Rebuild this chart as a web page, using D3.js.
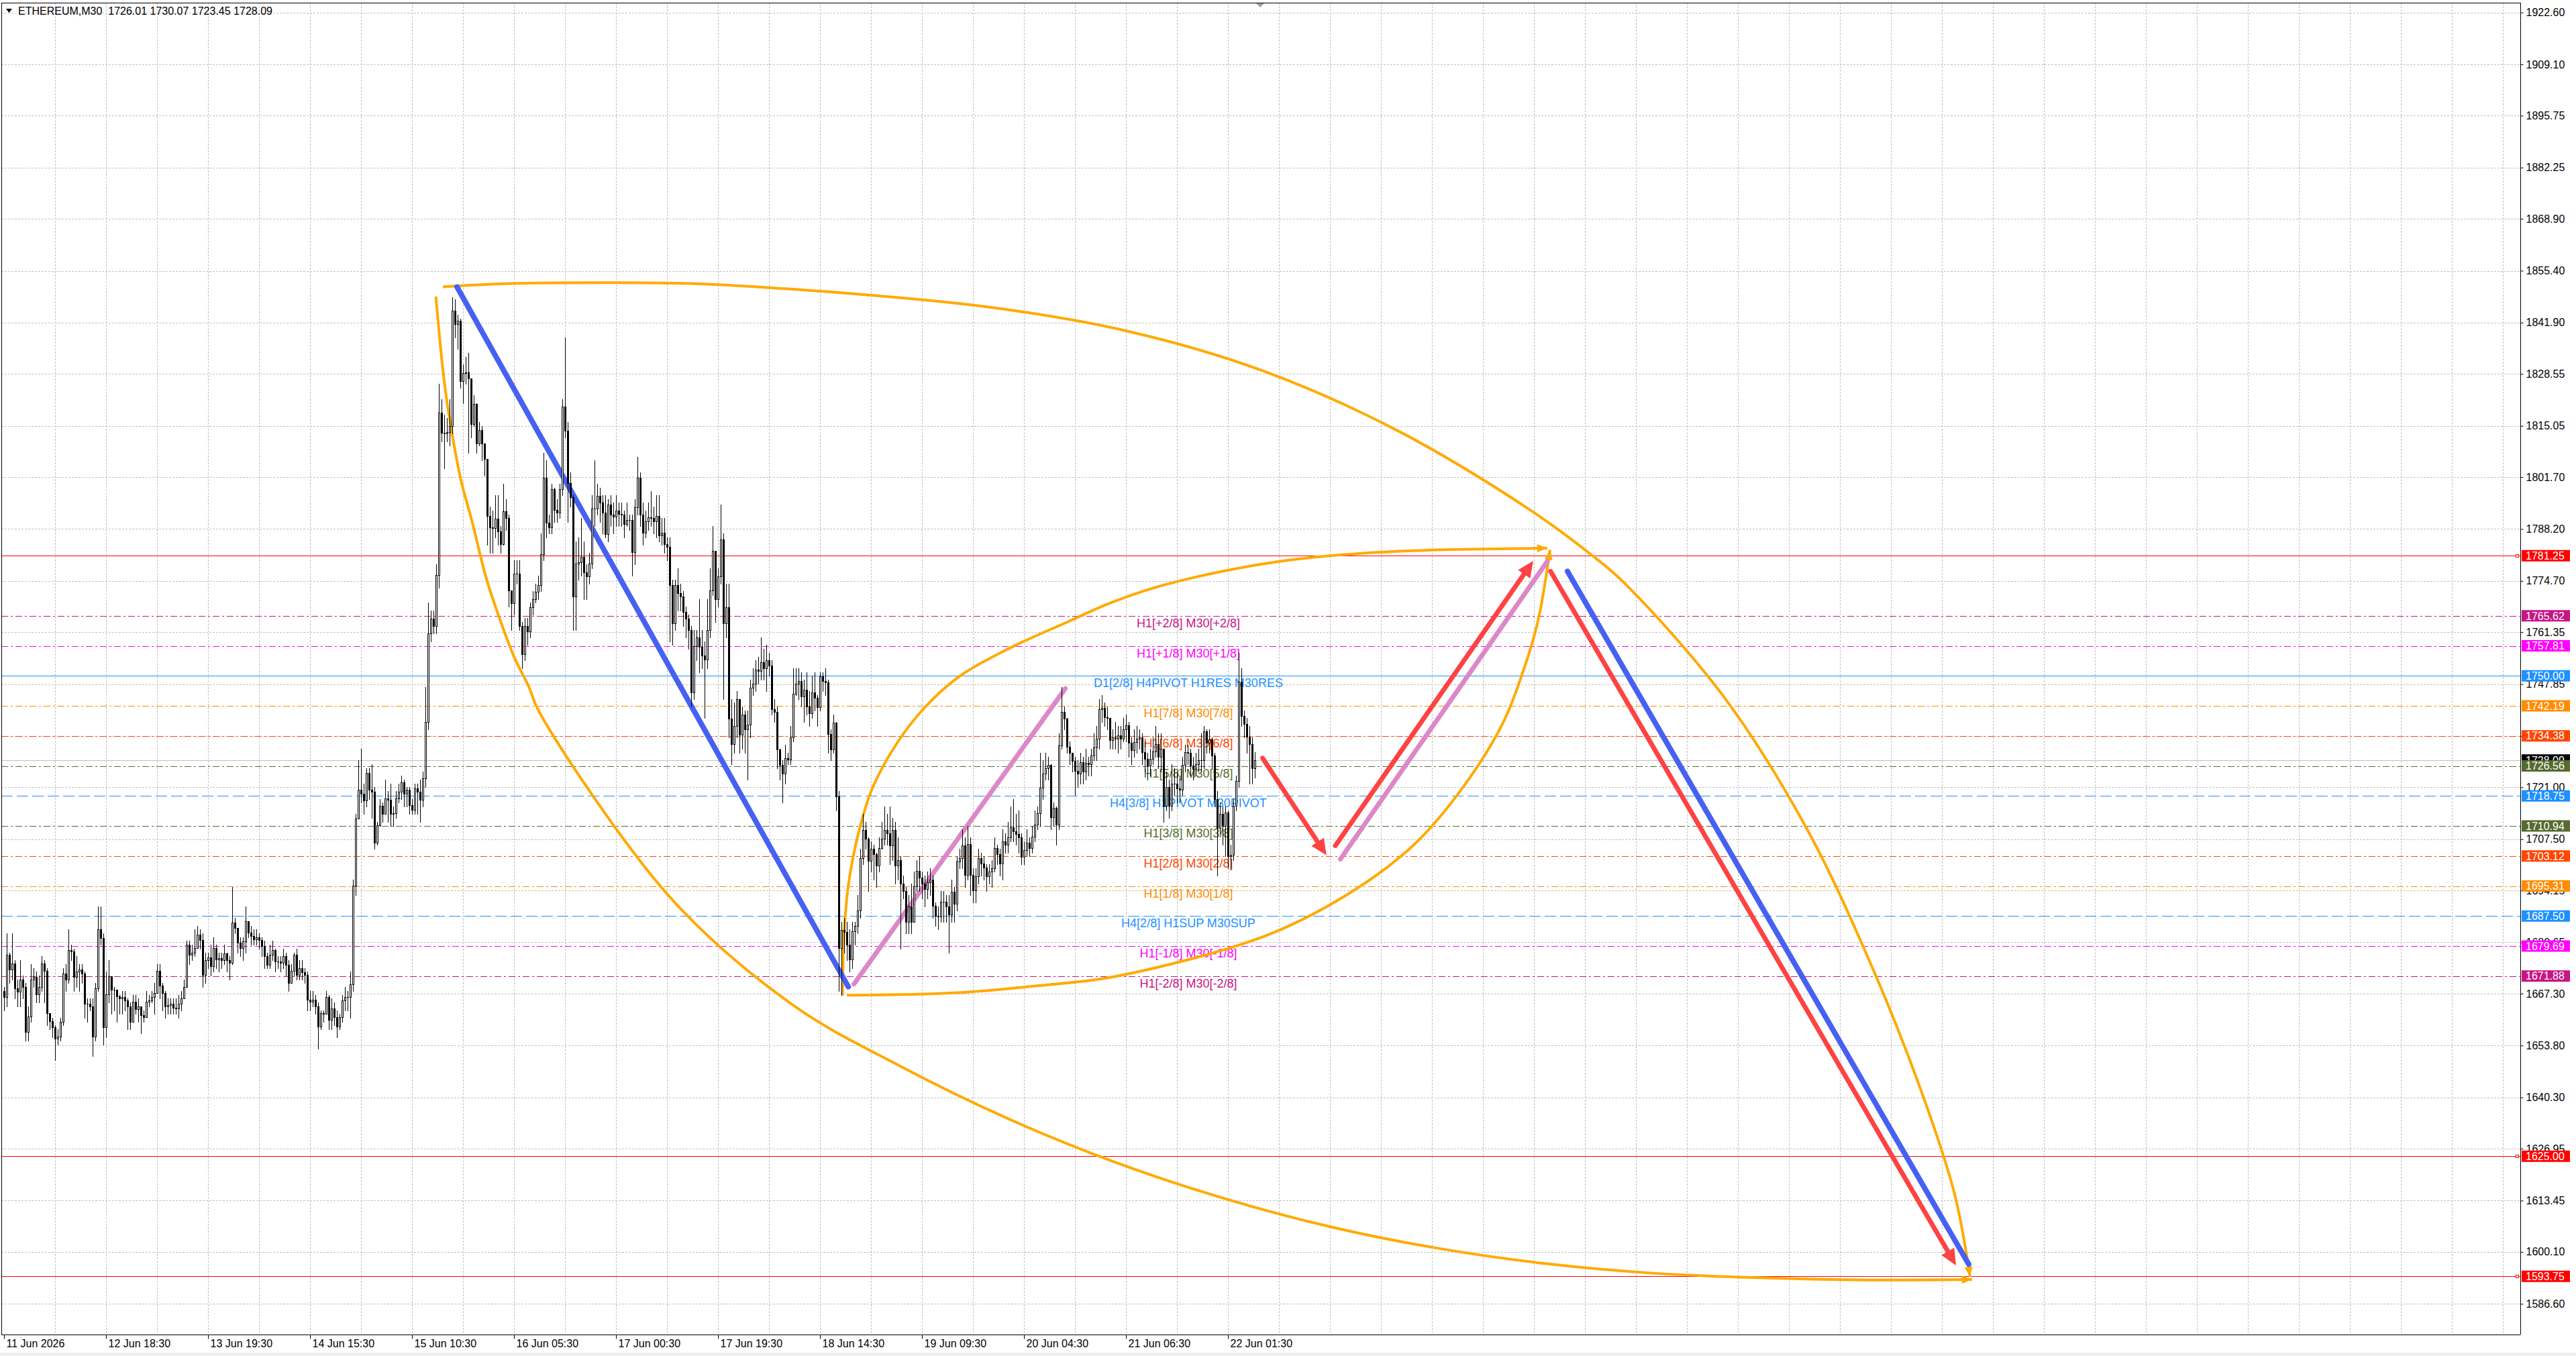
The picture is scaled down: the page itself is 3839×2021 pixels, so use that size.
<!DOCTYPE html>
<html>
<head>
<meta charset="utf-8">
<script src="https://cdn.jsdelivr.net/npm/d3@7"></script>
<style>
  body { margin: 0; background: #ffffff; }
  svg text { font-family: "Liberation Sans", Arial, sans-serif; }
</style>
</head>
<body>
<div id="chart"></div>
<script>
var svgWidth = 3839;
var svgHeight = 2021;

var symbolName = "ETHEREUM,M30";

// M30 candles (open of each bar = previous close)
var firstOpen = 1668.0;
var closes = [
  1666.4,1677.4,1673.6,1675.1,1668.7,1667.8,1671.0,1669.0,1657.4,1661.4,
  1671.0,1671.6,1667.2,1669.0,1675.1,1673.3,1662.3,1660.2,1658.5,1655.6,
  1656.2,1660.0,1672.5,1671.0,1678.6,1678.3,1671.6,1673.0,1673.6,1672.5,
  1664.6,1664.6,1664.0,1656.2,1668.7,1684.1,1681.8,1658.5,1667.2,1671.9,
  1668.4,1668.4,1666.6,1666.1,1666.4,1665.5,1664.0,1660.0,1665.2,1663.2,
  1664.0,1661.7,1661.1,1665.2,1665.5,1666.4,1667.5,1673.3,1669.3,1667.5,
  1664.0,1664.3,1664.6,1663.7,1663.5,1664.6,1666.1,1669.0,1680.0,1677.4,
  1678.0,1679.1,1682.6,1681.2,1672.2,1676.0,1676.8,1674.5,1679.1,1676.2,
  1676.5,1676.0,1677.7,1676.0,1675.4,1685.8,1684.4,1680.6,1679.1,1680.9,
  1686.1,1683.2,1682.3,1681.5,1682.0,1681.2,1679.7,1677.1,1674.8,1677.4,
  1678.6,1675.7,1675.7,1675.4,1677.1,1674.8,1670.1,1673.3,1677.4,1672.2,
  1673.9,1672.8,1672.2,1665.8,1665.2,1665.8,1664.0,1658.8,1662.3,1662.0,
  1666.4,1660.5,1663.5,1661.1,1658.8,1661.1,1665.5,1666.4,1666.4,1669.8,
  1695.4,1712.9,1720.4,1719.3,1717.5,1724.8,1720.4,1719.8,1706.5,1711.1,
  1716.1,1714.0,1718.1,1717.8,1714.0,1714.3,1718.1,1719.8,1722.2,1719.3,
  1720.4,1716.4,1715.2,1720.7,1719.8,1717.8,1723.3,1738.0,1761.1,
  1764.8,1763.0,1776.2,1818.5,1813.3,1813.0,1813.5,1815.0,1845.0,1841.6,
  1842.4,1826.6,1828.8,1829.0,1827.3,1815.5,1820.7,1810.4,1814.0,1810.4,
  1806.4,1791.6,1788.7,1788.4,1790.9,1787.6,1784.3,1792.8,1791.0,1772.2,
  1768.9,1776.6,1776.6,1763.0,1755.6,1763.0,1761.5,1767.8,1770.0,1771.8,
  1773.6,1781.7,1801.6,1789.8,1788.7,1798.6,1793.1,1792.4,1798.6,1820.0,
  1813.7,1800.1,1796.4,1770.7,1779.2,1779.5,1781.0,1777.0,1775.8,1779.2,
  1793.5,1793.5,1796.8,1795.0,1792.4,1786.9,1794.6,1792.0,1791.5,1793.0,
  1792.2,1792.0,1789.5,1790.6,1790.6,1782.1,1793.9,1801.6,1792.0,1787.2,
  1790.2,1791.3,1791.0,1790.2,1791.6,1786.5,1787.2,1784.3,1783.6,1773.6,
  1763.7,1773.6,1771.5,1770.7,1766.7,1764.8,1761.9,1745.7,1757.8,1760.0,
  1757.5,1755.3,1754.2,1761.9,1772.2,1782.5,1770.0,1775.9,1785.4,1763.7,
  1767.8,1738.9,
  1732.3,1737.0,1743.9,1734.6,1740.0,1736.0,1737.3,1746.9,1748.0,1751.6,
  1751.3,1753.6,1752.0,1754.0,1752.6,1741.3,1740.6,1730.9,1726.9,1724.6,
  1728.6,1728.3,1733.9,1745.3,1747.9,1748.6,1744.6,1746.3,1742.0,1740.3,
  1745.6,1744.3,1741.9,1749.9,1748.6,1748.3,1734.9,1730.9,1737.9,1718.6,
  1679.2,1683.9,1683.3,1680.0,1676.2,1683.6,1685.0,1688.9,1702.6,1709.9,
  1707.6,1701.9,1705.0,1703.6,1700.6,1705.2,1707.6,1709.9,1709.0,1705.9,
  1709.9,1700.6,1702.0,1695.9,1694.0,1685.9,1690.0,1686.0,1695.2,1699.2,
  1697.5,1695.9,1694.6,1696.3,1697.0,1690.2,1687.6,1687.3,1691.2,1691.2,
  1690.0,1687.9,1693.9,1690.7,1701.6,1702.6,1705.9,1698.2,1706.2,1698.2,
  1694.2,1697.9,1702.6,1701.2,1700.2,1697.9,1699.0,1700.0,1705.2,1703.6,
  1701.2,1706.9,1706.0,1707.9,1710.6,1709.6,1708.9,1707.9,1702.9,1704.6,
  1706.6,1705.2,1708.2,1711.2,1714.2,1720.9,1724.6,1725.9,1726.9,1713.2,
  1715.6,1711.2,1731.9,1740.6,1738.9,1731.6,1729.9,1727.9,1725.3,1724.6,
  1727.5,1725.0,1727.3,1727.0,1729.3,1731.3,1733.6,1741.3,1741.6,1739.3,
  1739.0,1733.3,
  1733.9,1733.7,1734.5,1733.7,1736.0,1737.1,1732.5,1730.7,1732.8,1733.7,
  1733.9,1730.2,1728.4,1726.7,1728.4,1730.4,1732.2,1729.0,1731.0,1716.2,
  1721.0,1716.2,1722.0,1722.0,1720.8,1720.3,1726.9,1730.2,1730.0,1726.7,
  1725.8,1727.0,1728.0,1728.0,1735.6,1732.5,1733.5,1729.3,1718.0,1710.4,
  1714.1,1711.0,1714.4,1703.1,1703.5,1716.2,1722.6,1748.5,1739.5,1737.4,
  1734.2,1732.2,1726.01,1728.09
];
var highs = [
  1669,1683,1678,1683,1676,1671,1676,1672,1670,1664,
  1675,1674,1673,1672,1677,1676,1674,1662,1661,1659,
  1658,1661,1674,1675,1684,1680,1679,1677,1675,1675,
  1673,1666,1666,1666,1670,1690,1690,1683,1673,1676,
  1670,1669,1668,1667,1668,1668,1666,1665,1667,1667,
  1666,1664,1663,1668,1667,1668,1670,1675,1675,1670,
  1668,1666,1666,1666,1666,1667,1668,1671,1681,1681,
  1680,1684,1685,1684,1683,1678,1678,1680,1682,1680,
  1678,1678,1680,1678,1677,1695,1687,1684,1682,1682,
  1690,1686,1685,1684,1684,1683,1682,1681,1678,1680,
  1681,1679,1677,1677,1679,1678,1676,1675,1678,1679,
  1676,1676,1674,1673,1668,1668,1667,1665,1663,1663,
  1668,1667,1666,1665,1663,1662,1667,1669,1668,1673,
  1697,1714,1728,1731,1722,1726,1726,1727,1721,1712,
  1718,1717,1723,1720,1722,1716,1720,1722,1724,1723,
  1721,1721,1718,1722,1722,1723,1725,1747,1769,
  1767,1767,1779,1826,1822,1818,1817,1822,1848.5,1848,
  1844,1843,1831,1833,1834,1820,1823,1821,1816,1815,
  1810,1806,1794,1793,1797,1797,1789,1800,1796,1792,
  1772,1780,1780,1780,1764,1765,1765,1769,1772,1774,
  1776,1787,1808,1806,1792,1800,1799,1796,1800,1822,
  1838,1816,1803,1797,1785,1786,1791,1785,1779,1782,
  1797,1806,1800,1799,1797,1797,1796,1797,1795,1797,
  1795,1795,1793,1795,1792,1792,1796,1807,1803,1795,
  1793,1795,1798,1794,1797,1797,1791,1791,1786,1786,
  1775,1775,1778,1774,1772,1768,1766,1763,1762,1762,
  1770,1762,1759,1770,1778,1789,1782,1778,1794.6,1787,
  1774,1774,
  1744,1743,1746,1744,1742,1741,1741,1749,1752,1754,
  1755,1760,1757,1758,1756,1754,1744,1742,1731,1728,
  1732,1730,1737,1752,1752,1752,1751,1749,1751,1746,
  1750,1751,1745,1751,1751,1752,1749,1736,1740,1738,
  1720,1686,1687,1686,1684,1686,1686,1693,1705,1714,
  1712,1708,1707,1706,1704,1708,1712,1716,1714,1716,
  1713,1712,1708,1703,1698,1695,1693,1696,1699,1702,
  1703,1699,1698,1699,1700,1698,1691,1690,1694,1694,
  1693,1693,1697,1695,1703,1705,1710,1708,1711,1708,
  1700,1700,1705,1704,1703,1701,1701,1702,1708,1706,
  1705,1710,1709,1712,1716,1718,1714,1715,1709,1707,
  1710,1708,1711,1715,1716,1730,1728,1730,1729,1727,
  1717,1716,1735,1747,1742,1739,1733,1730,1729,1728,
  1730,1729,1731,1729,1731,1735,1737,1744,1745,1743,
  1742,1739,
  1736,1738,1737,1737,1739,1740,1738,1734,1736,1737,
  1736,1735,1733,1730,1731,1734,1737,1735,1735,1731,
  1725,1723,1727,1726,1725,1724,1729,1732,1732,1731,
  1729,1730,1731,1735,1737,1736,1736,1734,1730,1720,
  1717,1716,1716,1715,1706,1718,1724,1756,1752,1741,
  1739,1737,1734,1730.07
];
var lows = [
  1663,1664,1670,1671,1666,1664,1664,1666,1655,1655,
  1660,1669,1665,1665,1668,1665,1659,1658,1656,1650,
  1654,1655,1659,1668,1670,1676,1668,1669,1668,1670,
  1661,1660,1663,1651,1655,1668,1680,1654,1656,1665,
  1662,1663,1660,1662,1662,1663,1658,1658,1662,1662,
  1660,1657,1660,1662,1664,1665,1662,1669,1666,1663,
  1661,1662,1662,1662,1662,1661,1663,1666,1679,1675,
  1676,1677,1680,1679,1669,1670,1674,1672,1673,1674,
  1673,1674,1675,1673,1671,1675,1683,1678,1677,1676,
  1678,1682,1680,1680,1680,1679,1677,1674,1674,1674,
  1676,1673,1674,1673,1674,1672,1668,1670,1672,1671,
  1671,1671,1670,1663,1663,1664,1662,1653,1658,1660,
  1664,1658,1658,1659,1656,1658,1660,1663,1663,1661,
  1668,1693,1713,1717,1714,1716,1718,1713,1705,1706,
  1711,1712,1714,1712,1711,1711,1713,1717,1718,1716,
  1716,1714,1714,1714,1714,1712,1716,1721,1736,
  1759,1761,1761,1773,1811,1804,1811,1810,1813,1838,
  1835,1825,1821,1826,1808,1812,1815,1808,1810,1806,
  1802,1784,1782,1782,1786,1784,1782,1784,1788,1768,
  1762,1766,1774,1762,1752,1754,1758,1760,1766,1769,
  1770,1772,1780,1786,1787,1787,1790,1790,1791,1797,
  1812,1790,1794,1762,1762,1775,1776,1770,1770,1774,
  1778,1789,1792,1790,1787,1786,1785,1789,1787,1789,
  1789,1789,1786,1789,1788,1776,1779,1792,1789,1784,
  1786,1788,1789,1787,1786,1785,1784,1782,1780,1759,
  1758,1762,1767,1767,1763,1760,1757,1742,1744,1754,
  1751,1752,1739,1752,1760,1771,1764,1768,1774,1744,
  1760,1734,
  1727,1730,1734,1730,1731,1730,1723,1734,1745,1746,
  1748,1749,1749,1746,1750,1740,1738,1726,1723,1717,
  1722,1727,1727,1733,1745,1744,1742,1738,1740,1737,
  1739,1741,1737,1741,1746,1745,1730,1728,1730,1715,
  1668,1667,1678,1676,1673,1674,1680,1683,1687,1701,
  1705,1694,1699,1697,1695,1699,1705,1706,1706,1701,
  1702,1696,1697,1679,1692,1683,1683,1683,1686,1694,
  1694,1692,1690,1692,1693,1687,1685,1684,1686,1686,
  1686,1678,1686,1686,1689,1700,1700,1695,1697,1693,
  1691,1691,1696,1698,1697,1694,1696,1695,1699,1701,
  1698,1697,1704,1704,1707,1707,1706,1704,1701,1701,
  1703,1703,1704,1707,1710,1711,1718,1723,1723,1710,
  1711,1706,1710,1731,1736,1730,1727,1725,1719,1721,
  1722,1722,1723,1724,1724,1728,1728,1731,1738,1737,
  1736,1731,
  1731,1731,1730,1731,1733,1733,1729,1727,1729,1730,
  1731,1727,1725,1723,1724,1727,1729,1726,1725,1712,
  1715,1713,1715,1719,1717,1717,1719,1725,1727,1724,
  1723,1724,1725,1725,1726,1730,1730,1726,1716,1698,
  1709,1706,1703,1700,1700,1702,1715,1721,1737,1734,
  1730,1722,1722,1723.45
];

// axis ticks
var priceTicks = [1922.60,1909.10,1895.75,1882.25,1868.90,1855.40,1841.90,1828.55,1815.05,
  1801.70,1788.20,1774.70,1761.35,1747.85,1734.35,1721.00,1707.50,1694.15,1680.65,
  1667.30,1653.80,1640.30,1626.95,1613.45,1600.10,1586.60];
var timeLabels = ["11 Jun 2026","12 Jun 18:30","13 Jun 19:30","14 Jun 15:30","15 Jun 10:30",
  "16 Jun 05:30","17 Jun 00:30","17 Jun 19:30","18 Jun 14:30","19 Jun 09:30",
  "20 Jun 04:30","21 Jun 06:30","22 Jun 01:30"];
var barsPerLabel = 38;

// murrey levels
var levelPrices = [1765.62,1757.81,1750.00,1742.19,1734.38,1726.56,1718.75,1710.94,1703.12,1695.31,1687.50,1679.69,1671.88];
var levelNames = ["H1[+2/8] M30[+2/8]","H1[+1/8] M30[+1/8]","D1[2/8] H4PIVOT H1RES M30RES",
  "H1[7/8] M30[7/8]","H1[6/8] M30[6/8]","H1[5/8] M30[5/8]","H4[3/8] H1PIVOT M30PIVOT",
  "H1[3/8] M30[3/8]","H1[2/8] M30[2/8]","H1[1/8] M30[1/8]","H4[2/8] H1SUP M30SUP",
  "H1[-1/8] M30[-1/8]","H1[-2/8] M30[-2/8]"];
var redLevels = [1781.25, 1625.00, 1593.75];

// hand drawn objects, [bar index, price]
var blueLine1 = [[168.75,1851.2],[314.55,1669.1]];
var blueLine2 = [[582.5,1777.2],[732,1596.9]];
var pinkLine1 = [[316.65,1669.8],[395.4,1746.7]];
var pinkLine2 = [[497.9,1702.3],[575,1779.8]];
var redArrow1 = [[468.9,1728.6],[492.7,1703.3]];
var redArrow2 = [[496,1705.8],[569.75,1779.9]];
var redArrow3 = [[576.2,1777.2],[727.25,1596.6]];
var outerTop = [[163.5,1851.2],[185,1852.0],[227.25,1852.3],[258.75,1852.0],[285,1851.0],
  [318.5,1849.3],[368.5,1845.8],[418.5,1839.7],[468.5,1829.5],[518.5,1814.05],[568.5,1793.2],
  [591.75,1781.3],[603.5,1774.3],[641,1744.3],[671.75,1710.1],[696.25,1673.8],
  [714.5,1641.6],[726.75,1615.1],[732.5,1593.6]];
var outerBottom = [[160.9,1848.7],[164,1826.7],[167.2,1811.9],[170.25,1800.9],[174.5,1789.8],
  [179.75,1775.2],[185,1764.2],[190.25,1754.6],[195.5,1747.2],[199.25,1740.8],[248.5,1692.1],
  [294,1664.3],[334,1648.4],[374,1634.8],[413.75,1623.5],[453.75,1614.2],[493.75,1606.7],
  [533.75,1601.1],[573.75,1597.1],[613.5,1594.6],[653.5,1593.4],[693.5,1592.8],[733.2,1592.9]];
var innerTop = [[312.4,1666.8],[312.95,1682.1],[314.55,1695.4],[318.25,1708.8],[323.5,1720.7],
  [333,1732.8],[343.5,1742.1],[356.25,1750.0],[375.25,1757.4],[396.5,1764.1],[411.25,1768.7],
  [427,1772.6],[448.5,1776.4],[473.5,1779.6],[498.5,1781.5],[523.5,1782.5],[543.5,1782.9],[575,1783.2]];
var innerBottom = [[314,1666.9],[354.15,1667.5],[385.75,1669.4],[414.2,1671.8],[469.75,1682.3],
  [500.25,1693.0],[524.75,1705.7],[543.25,1720.7],[558.5,1737.8],[567.75,1754.9],
  [571.8,1765.2],[576,1782.8]];

// styles
var levelStyles = [
  {color:"#c71585", dash:"10,4,3,4"}, {color:"#ff00ff", dash:"10,4,3,4"},
  {color:"#1e90ff", dash:null},       {color:"#ff8c00", dash:"10,4,3,4"},
  {color:"#ff4500", dash:"10,4,3,4"}, {color:"#556b2f", dash:"10,4,3,4"},
  {color:"#1e90ff", dash:"17,6"},     {color:"#556b2f", dash:"10,4,3,4"},
  {color:"#ff4500", dash:"10,4,3,4"}, {color:"#ff8c00", dash:"10,4,3,4"},
  {color:"#1e90ff", dash:"17,6"},     {color:"#ff00ff", dash:"10,4,3,4"},
  {color:"#c71585", dash:"10,4,3,4"}
];
var plot = {left: 2, top: 4, right: 3756, bottom: 1989};
var labelBar = 441.25;

var x = d3.scaleLinear().domain([0, 937.5]).range([6, 3756]);
var y = d3.scaleLinear().domain([1922.6, 1586.6]).range([18.6, 1943.2]);

var bars = closes.map(function(c, i) {
  var o = i === 0 ? firstOpen : closes[i - 1];
  return {i: i, o: o, c: c, h: Math.max(highs[i], o, c), l: Math.min(lows[i], o, c)};
});
var last = bars[bars.length - 1];

var svg = d3.select("#chart").append("svg")
  .attr("width", svgWidth)
  .attr("height", svgHeight)
  .style("display", "block");

svg.append("rect").attr("width", svgWidth).attr("height", svgHeight).attr("fill", "#ffffff");
svg.append("rect").attr("x", 0).attr("y", 2016).attr("width", svgWidth).attr("height", 5).attr("fill", "#f0f0f0");

svg.append("defs").append("clipPath").attr("id", "plotClip")
  .append("rect")
  .attr("x", plot.left).attr("y", plot.top)
  .attr("width", plot.right - plot.left).attr("height", plot.bottom - plot.top);

var chartGroup = svg.append("g").attr("clip-path", "url(#plotClip)");

// grid
var gridGroup = chartGroup.append("g")
  .attr("stroke", "#c0c0c0").attr("stroke-dasharray", "3,2").attr("shape-rendering", "crispEdges");
gridGroup.selectAll("line.v").data(d3.range(19, 940, 19)).enter().append("line")
  .attr("x1", d => Math.round(x(d)) + 0.5).attr("x2", d => Math.round(x(d)) + 0.5)
  .attr("y1", plot.top).attr("y2", plot.bottom);
gridGroup.selectAll("line.h").data(priceTicks).enter().append("line")
  .attr("x1", plot.left).attr("x2", plot.right)
  .attr("y1", d => Math.round(y(d)) + 0.5).attr("y2", d => Math.round(y(d)) + 0.5);

// levels
var levelGroup = chartGroup.append("g").attr("shape-rendering", "crispEdges");
levelGroup.selectAll("line").data(levelPrices).enter().append("line")
  .attr("x1", plot.left).attr("x2", plot.right)
  .attr("y1", d => Math.round(y(d)) + 0.5).attr("y2", d => Math.round(y(d)) + 0.5)
  .attr("stroke", (d, i) => levelStyles[i].color)
  .attr("stroke-dasharray", (d, i) => levelStyles[i].dash);

chartGroup.append("g").selectAll("text").data(levelPrices).enter().append("text")
  .attr("x", x(labelBar))
  .attr("y", d => y(d) + 17)
  .attr("text-anchor", "middle")
  .attr("font-size", 18)
  .attr("fill", (d, i) => levelStyles[i].color)
  .text((d, i) => levelNames[i]);

levelGroup.selectAll("line.red").data(redLevels).enter().append("line")
  .attr("x1", plot.left).attr("x2", plot.right)
  .attr("y1", d => Math.round(y(d)) + 0.5).attr("y2", d => Math.round(y(d)) + 0.5)
  .attr("stroke", "#ff0000");
levelGroup.selectAll("rect.red").data(redLevels).enter().append("rect")
  .attr("x", plot.right - 6.5).attr("y", d => Math.round(y(d)) - 1.5)
  .attr("width", 4).attr("height", 4)
  .attr("fill", "#ffffff").attr("stroke", "#ff0000");

levelGroup.append("line")
  .attr("x1", plot.left).attr("x2", plot.right)
  .attr("y1", Math.round(y(last.c)) + 0.5).attr("y2", Math.round(y(last.c)) + 0.5)
  .attr("stroke", "#c0c0c0");

// drawn objects
var drawGroup = chartGroup.append("g").attr("fill", "none");
var straight = d3.line().x(d => x(d[0])).y(d => y(d[1]));
var smooth = d3.line().x(d => x(d[0])).y(d => y(d[1])).curve(d3.curveCatmullRom.alpha(0.5));

function arrowHead(tip, back, len, half, color) {
  var dx = tip[0] - back[0], dy = tip[1] - back[1];
  var n = Math.sqrt(dx * dx + dy * dy);
  var ux = dx / n, uy = dy / n;
  var bx = tip[0] - ux * len, by = tip[1] - uy * len;
  drawGroup.append("path")
    .attr("d", "M" + tip[0] + "," + tip[1] +
      "L" + (bx - uy * half) + "," + (by + ux * half) +
      "L" + (bx + uy * half) + "," + (by - ux * half) + "Z")
    .attr("fill", color).attr("stroke", "none");
}

[outerTop, outerBottom, innerTop, innerBottom].forEach(function(pts) {
  var path = drawGroup.append("path")
    .attr("d", smooth(pts))
    .attr("stroke", "#ffaa00").attr("stroke-width", 4);
  var node = path.node();
  var L = node.getTotalLength();
  var p1 = node.getPointAtLength(L), p0 = node.getPointAtLength(L - 14);
  arrowHead([p1.x, p1.y], [p0.x, p0.y], 15, 6, "#ffaa00");
});

[[blueLine1, "#4661f2", 8], [blueLine2, "#4661f2", 8], [pinkLine1, "#dc88c8", 7], [pinkLine2, "#dc88c8", 7]]
  .forEach(function(s) {
    drawGroup.append("path").attr("d", straight(s[0]))
      .attr("stroke", s[1]).attr("stroke-width", s[2]).attr("stroke-linecap", "round");
  });

[redArrow1, redArrow2, redArrow3].forEach(function(a) {
  var p0 = [x(a[0][0]), y(a[0][1])], p1 = [x(a[1][0]), y(a[1][1])];
  var dx = p1[0] - p0[0], dy = p1[1] - p0[1];
  var n = Math.sqrt(dx * dx + dy * dy);
  var end = [p1[0] - dx / n * 16, p1[1] - dy / n * 16];
  drawGroup.append("path").attr("d", "M" + p0 + "L" + end)
    .attr("stroke", "#ff4242").attr("stroke-width", 7).attr("stroke-linecap", "round");
  arrowHead(p1, p0, 24, 11, "#ff4242");
});

// candles: black 3px body, bull candles keep a 1px white core
var candleGroup = chartGroup.append("g").attr("shape-rendering", "crispEdges");
candleGroup.selectAll("line").data(bars).enter().append("line")
  .attr("x1", d => x(d.i) + 0.5).attr("x2", d => x(d.i) + 0.5)
  .attr("y1", d => Math.round(y(d.h))).attr("y2", d => Math.round(y(d.l)) + 1)
  .attr("stroke", "#000000");
candleGroup.selectAll("rect.body").data(bars).enter().append("rect")
  .attr("class", "body")
  .attr("x", d => x(d.i) - 1).attr("width", 3)
  .attr("y", d => Math.round(y(Math.max(d.o, d.c))))
  .attr("height", d => Math.max(Math.round(y(Math.min(d.o, d.c))) - Math.round(y(Math.max(d.o, d.c))), 0) + 1)
  .attr("fill", "#000000");
candleGroup.selectAll("rect.core").data(bars.filter(function(d) {
    return d.c > d.o && Math.round(y(d.o)) - Math.round(y(d.c)) >= 2;
  })).enter().append("rect")
  .attr("class", "core")
  .attr("x", d => x(d.i)).attr("width", 1)
  .attr("y", d => Math.round(y(d.c)) + 1)
  .attr("height", d => Math.round(y(d.o)) - Math.round(y(d.c)) - 1)
  .attr("fill", "#ffffff");

// frame
svg.append("path")
  .attr("d", "M" + (plot.left + 0.5) + "," + plot.bottom + "V" + (plot.top + 0.5) + "H" + (plot.right + 0.5) + "V" + plot.bottom)
  .attr("fill", "none").attr("stroke", "#000000").attr("shape-rendering", "crispEdges");

// chart shift marker
svg.append("path").attr("d", "M1872,5L1884,5L1878,11Z").attr("fill", "#a0a0a0");

// right axis
var yAxis = svg.append("g")
  .attr("transform", "translate(" + (plot.right + 0.5) + ",0)")
  .call(d3.axisRight(y).tickValues(priceTicks).tickFormat(d3.format(".2f")).tickSize(4).tickSizeOuter(0));
yAxis.select(".domain").remove();
yAxis.selectAll("text").attr("font-size", 16).attr("font-family", "Liberation Sans, Arial, sans-serif")
  .attr("x", 8).attr("fill", "#000000");
yAxis.append("line").attr("x1", 0).attr("x2", 0).attr("y1", plot.top).attr("y2", plot.bottom)
  .attr("stroke", "#000000");

// bottom axis
var labelBars = timeLabels.map((t, i) => i * barsPerLabel);
var xAxis = svg.append("g")
  .attr("transform", "translate(0," + (plot.bottom + 0.5) + ")")
  .call(d3.axisBottom(x).tickValues(labelBars).tickFormat((d, i) => timeLabels[i]).tickSize(6).tickSizeOuter(0));
xAxis.select(".domain").remove();
xAxis.append("line").attr("x1", plot.left).attr("x2", plot.right).attr("stroke", "#000000");
xAxis.selectAll("text").attr("font-size", 16).attr("font-family", "Liberation Sans, Arial, sans-serif")
  .attr("text-anchor", "start").attr("x", 3).attr("y", 7).attr("fill", "#000000");

// price boxes
function priceBox(p, color) {
  var g = svg.append("g");
  g.append("rect").attr("x", plot.right + 2).attr("y", y(p) - 8.5)
    .attr("width", 72).attr("height", 17).attr("fill", color);
  g.append("text").attr("x", plot.right + 8).attr("y", y(p)).attr("dy", "0.36em")
    .attr("font-size", 16).attr("fill", "#ffffff").text(p.toFixed(2));
}
priceBox(last.c, "#000000");
levelPrices.forEach((p, i) => priceBox(p, levelStyles[i].color));
redLevels.forEach(p => priceBox(p, "#ff0000"));

// header
svg.append("path").attr("d", "M9,13L18,13L13.5,19Z").attr("fill", "#000000");
svg.append("text").attr("x", 27).attr("y", 22).attr("font-size", 16)
  .style("white-space", "pre")
  .text(symbolName + "  " + [last.o, last.h, last.l, last.c].map(v => v.toFixed(2)).join(" "));
</script>
</body>
</html>
